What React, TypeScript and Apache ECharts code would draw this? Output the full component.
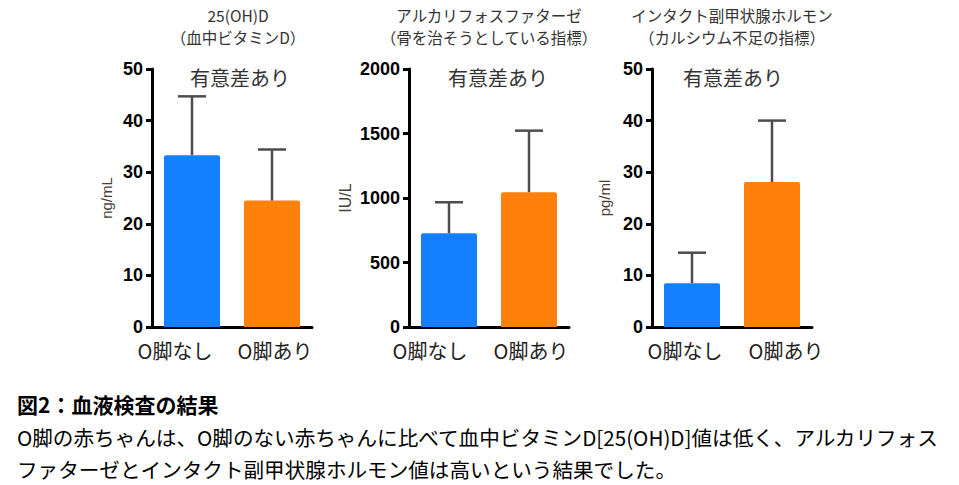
import React, { useEffect, useRef } from "react";
import * as echarts from "echarts";

const categories = ["O脚なし", "O脚あり"];
const barColors = ["#1580FF", "#FF800A"];

const vitDMean = [33.3, 24.5];
const vitDErr = [11.4, 9.9];
const alpMean = [727, 1045];
const alpErr = [240, 477];
const pthMean = [8.5, 28.1];
const pthErr = [5.9, 11.9];

const panelTitles = [
  ["25(OH)D", "（血中ビタミンD）"],
  ["アルカリフォスファターゼ", "（骨を治そうとしている指標）"],
  ["インタクト副甲状腺ホルモン", "（カルシウム不足の指標）"],
];
const axisNames = ["ng/mL", "IU/L", "pg/ml"];
const axisMax = [50, 2000, 50];
const axisInterval = [10, 500, 10];
const sigLabel = "有意差あり";

const captionTitle = "図2：血液検査の結果";
const captionLines = [
  "O脚の赤ちゃんは、O脚のない赤ちゃんに比べて血中ビタミンD[25(OH)D]値は低く、アルカリフォス",
  "ファターゼとインタクト副甲状腺ホルモン値は高いという結果でした。",
];

const JP = "'Noto Sans CJK JP', sans-serif";
const NUM = "'Liberation Sans', Arial, sans-serif";

const gridLefts = [152, 409, 652];
const gridWidth = 160;
const nameGaps = [38, 56, 40];
const labelShift = [
  [-17, 3],
  [-19, 2],
  [-7, 14],
];

export default function App() {
  const ref = useRef<HTMLDivElement>(null);
  useEffect(() => {
    if (!ref.current) return;
    const chart = echarts.init(ref.current, null, { renderer: "svg" });
    const means = [vitDMean, alpMean, pthMean];
    const errs = [vitDErr, alpErr, pthErr];

    const grids = gridLefts.map((l) => ({ left: l, width: gridWidth, top: 69, height: 258 }));
    const xAxes = gridLefts.map((_, i) => ({
      type: "category",
      gridIndex: i,
      data: categories.map((c, j) => {
        const d = labelShift[i][j];
        return {
          value: c,
          textStyle: { padding: d < 0 ? [0, -2 * d, 0, 0] : [0, 0, 0, 2 * d] },
        };
      }),
      axisLine: { lineStyle: { color: "#000", width: 3 } },
      axisTick: { alignWithLabel: true, length: 6, lineStyle: { color: "#000", width: 3 } },
      axisLabel: { interval: 0, color: "#222", fontFamily: JP, fontSize: 20, margin: 13 },
    }));
    const yAxes = gridLefts.map((_, i) => ({
      type: "value",
      gridIndex: i,
      min: 0,
      max: axisMax[i],
      interval: axisInterval[i],
      name: axisNames[i],
      nameLocation: "middle",
      nameRotate: 90,
      nameGap: nameGaps[i],
      nameTextStyle: { color: "#4a4038", fontFamily: NUM, fontSize: i === 1 ? 16 : 15 },
      splitLine: { show: false },
      axisLine: { show: true, lineStyle: { color: "#000", width: 3 } },
      axisTick: { show: true, length: 6, lineStyle: { color: "#000", width: 3 } },
      axisLabel: {
        color: "#000",
        fontFamily: NUM,
        fontWeight: "bold",
        fontSize: 18,
        margin: 9,
        formatter: (v: number) => String(v),
      },
    }));

    const series: any[] = [];
    means.forEach((m, i) => {
      series.push({
        type: "bar",
        xAxisIndex: i,
        yAxisIndex: i,
        barWidth: "70%",
        data: m.map((v, j) => ({ value: v, itemStyle: { color: barColors[j], borderRadius: [2, 2, 0, 0] } })),
      });
      series.push({
        type: "custom",
        xAxisIndex: i,
        yAxisIndex: i,
        z: 5,
        data: m.map((v, j) => [j, v, errs[i][j]]),
        renderItem: (params: any, api: any) => {
          const x = api.value(0);
          const mean = api.value(1);
          const e = api.value(2);
          const base = api.coord([x, mean]);
          const top = api.coord([x, mean + e]);
          const half = 14;
          const style = { stroke: "#4d4d4d", lineWidth: 2.5 };
          return {
            type: "group",
            children: [
              { type: "line", shape: { x1: base[0], y1: base[1], x2: top[0], y2: top[1] }, style },
              { type: "line", shape: { x1: top[0] - half, y1: top[1], x2: top[0] + half, y2: top[1] }, style },
            ],
          };
        },
      });
    });

    const graphics: any[] = [];
    gridLefts.forEach((l, i) => {
      const cx = l + gridWidth / 2;
      panelTitles[i].forEach((t, k) => {
        graphics.push({
          type: "text",
          x: cx + (i === 0 ? 6 : 0),
          y: 14.5 + k * 22.5,
          style: { text: t, fill: "#333", font: `15.5px ${JP}`, textAlign: "center", textVerticalAlign: "middle" },
        });
      });
      graphics.push({
        type: "text",
        x: cx + (i === 0 ? 8 : i === 1 ? 9 : 1),
        y: 77,
        style: { text: sigLabel, fill: "#333", font: `20px ${JP}`, textAlign: "center", textVerticalAlign: "middle" },
      });
    });
    graphics.push({
      type: "text",
      x: 17,
      y: 404,
      style: { text: captionTitle, fill: "#000", font: `bold 21px ${JP}`, textAlign: "left", textVerticalAlign: "middle" },
    });
    captionLines.forEach((t, k) => {
      graphics.push({
        type: "text",
        x: 17,
        y: 437 + k * 32,
        style: { text: t, fill: "#000", font: `20.6px ${JP}`, textAlign: "left", textVerticalAlign: "middle" },
      });
    });

    chart.setOption({
      animation: false,
      backgroundColor: "#fff",
      grid: grids,
      xAxis: xAxes,
      yAxis: yAxes,
      series,
      graphic: graphics,
    });
    return () => chart.dispose();
  }, []);
  return <div ref={ref} style={{ position: "absolute", left: 0, top: 0, width: 959, height: 485 }} />;
}
